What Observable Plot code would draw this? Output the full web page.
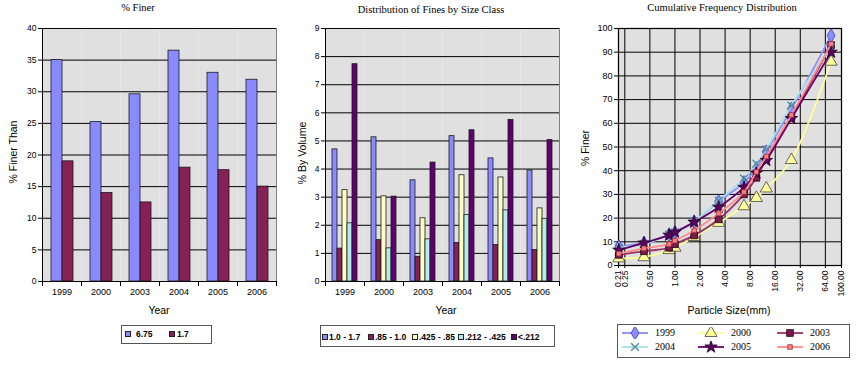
<!DOCTYPE html>
<html><head><meta charset="utf-8">
<script src="https://cdn.jsdelivr.net/npm/d3@7"></script>
<script src="https://cdn.jsdelivr.net/npm/@observablehq/plot@0.6"></script>
<style>
html,body{margin:0;padding:0;background:#fff}
#root{position:relative;width:856px;height:366px;overflow:hidden;font-family:"Liberation Sans",Arial,sans-serif;color:#000}
.a{position:absolute;white-space:nowrap;line-height:1}
.t{font-family:"Liberation Serif","Times New Roman",serif;font-size:10.5px;transform:translate(-50%,-50%)}
.ax{font-size:10.5px;transform:translate(-50%,-50%)}
.yt{font-size:10.5px;transform:translate(-50%,-50%) rotate(-90deg)}
.box{border:1px solid #555;box-sizing:border-box;background:#fff}
.lg{font-weight:bold;font-size:8.5px;transform:translateY(-50%)}
.lg3{font-family:"Liberation Serif","Times New Roman",serif;font-size:10px;transform:translateY(-50%)}
.sw{width:6px;height:6px;box-sizing:border-box;border:1px solid #222;transform:translateY(-50%)}
.plot{position:absolute}
.plot svg{display:block}
</style></head><body><div id="root"></div>
<script>
// ---------- data ----------
const years = ["1999", "2000", "2003", "2004", "2005", "2006"];

// Panel 1: % Finer
const finerSeries = ["6.75", "1.7"];
const finer675 = [35, 25.2, 29.6, 36.5, 33, 31.9];
const finer17 = [19, 14, 12.5, 18, 17.6, 15];

// Panel 2: Distribution of fines by size class
const sizeClasses = ["1.0 - 1.7", ".85 - 1.0", ".425 - .85", ".212 - .425", "<.212"];
const vol_10_17 = [4.7, 5.13, 3.6, 5.17, 4.38, 3.95];
const vol_085_10 = [1.17, 1.47, 0.88, 1.37, 1.3, 1.12];
const vol_0425_085 = [3.25, 3.03, 2.25, 3.78, 3.7, 2.6];
const vol_0212_0425 = [2.07, 1.18, 1.5, 2.37, 2.53, 2.23];
const vol_lt0212 = [7.73, 3.02, 4.23, 5.38, 5.75, 5.03];

// Panel 3: cumulative frequency distribution
const particleSizes = [0.212, 0.425, 0.85, 1.0, 1.7, 3.35, 6.75, 9.5, 12.5, 25, 75];
const cum1999 = [8, 9.5, 13, 14, 18.5, 27, 35, 41, 48, 66, 97];
const cum2000 = [3, 3.5, 6.5, 7.5, 12, 18, 25, 28.5, 32.5, 44.5, 86];
const cum2003 = [4.5, 6, 7.5, 9, 12.7, 19.5, 30, 37, 45, 62.5, 93];
const cum2004 = [7.5, 9, 13, 14, 18.5, 27.4, 36.7, 43, 49, 67.5, 92];
const cum2005 = [6.5, 9.5, 12.8, 14, 18.3, 24.6, 33, 39, 44.3, 62, 90];
const cum2006 = [5, 7.2, 9, 10.5, 14.8, 22, 31, 39.5, 46, 63.5, 93.5];
const sizeTicks = [0.21, 0.25, 0.5, 1, 2, 4, 8, 16, 32, 64, 100];

// ---------- helpers ----------
const root = document.getElementById("root");
function put(cls, text, x, y) {
  const d = document.createElement("div");
  d.className = "a " + cls; d.textContent = text;
  d.style.left = x + "px"; d.style.top = y + "px";
  root.appendChild(d); return d;
}
function box(x, y, w, h) {
  const d = document.createElement("div");
  d.className = "a box"; d.style.left = x + "px"; d.style.top = y + "px";
  d.style.width = w + "px"; d.style.height = h + "px";
  root.appendChild(d);
}
function swatch(x, y, color) {
  const d = document.createElement("div");
  d.className = "a sw"; d.style.left = x + "px"; d.style.top = y + "px";
  d.style.background = color; root.appendChild(d);
}
function placePlot(svg, x, y) {
  const w = document.createElement("div");
  w.className = "plot"; w.style.left = x + "px"; w.style.top = y + "px";
  w.appendChild(svg); root.appendChild(w);
}

const H = 300;
const plotStyle = {fontFamily: '"Liberation Sans", Arial, sans-serif', fontSize: "8.5px", background: "transparent", overflow: "visible", color: "#000"};

function barPanel({data, series, colors, yMax, yStep, width, ml, mr, padOuter}) {
  const mt = 10, mb = 37, innerH = H - mt - mb;
  const yt = d3.range(0, yMax + yStep / 2, yStep);
  return Plot.plot({
    width, height: H, marginLeft: ml, marginRight: mr, marginTop: mt, marginBottom: mb,
    style: plotStyle,
    fx: {domain: years, padding: 0},
    x: {domain: series, paddingInner: 0, paddingOuter: padOuter, axis: null},
    y: {domain: [0, yMax]},
    color: {domain: series, range: colors},
    marks: [
      Plot.frame({fill: "#e0e0e0", stroke: null}),
      Plot.frame({anchor: "right", stroke: "#808080", facetAnchor: "right"}),
      Plot.gridY(yt, {stroke: "#000", strokeOpacity: 1}),
      Plot.barY(data, {fx: "year", x: "series", y: "value", fill: "series", stroke: "#1a1a1a", strokeWidth: 0.8}),
      Plot.frame({anchor: "left", stroke: "#000", facetAnchor: "left"}),
      Plot.frame({anchor: "left", stroke: "#000", insetTop: innerH, insetBottom: -4}),
      Plot.frame({anchor: "right", stroke: "#000", insetTop: innerH, insetBottom: -4, facetAnchor: "right"}),
      Plot.axisY(yt, {tickSize: 4, tickPadding: 2, label: null}),
      Plot.axisFx({anchor: "bottom", tickSize: 0, tickPadding: 7, label: null, fontSize: 9})
    ]
  });
}

// ---------- Panel 1 ----------
const finerTable = years.flatMap((yr, i) => [
  {year: yr, series: finerSeries[0], value: finer675[i]},
  {year: yr, series: finerSeries[1], value: finer17[i]}
]);
const c1 = ["#8a8aff", "#862158"];
placePlot(barPanel({data: finerTable, series: finerSeries, colors: c1, yMax: 40, yStep: 5, width: 285, ml: 41, mr: 8, padOuter: 0.65}), 0, 18);

// ---------- Panel 2 ----------
const volSeries = [vol_10_17, vol_085_10, vol_0425_085, vol_0212_0425, vol_lt0212];
const volTable = years.flatMap((yr, i) => sizeClasses.map((s, k) => ({year: yr, series: s, value: volSeries[k][i]})));
const c2 = ["#8a8aff", "#862158", "#ffffc4", "#b4ecec", "#600070"];
placePlot(barPanel({data: volTable, series: sizeClasses, colors: c2, yMax: 9, yStep: 1, width: 275, ml: 33, mr: 4, padOuter: 0.8}), 290, 18);

// ---------- Panel 3 ----------
const cumValues = [cum1999, cum2000, cum2003, cum2004, cum2005, cum2006];
const cumTable = years.flatMap((yr, k) => particleSizes.map((s, i) => ({year: yr, size: s, pct: cumValues[k][i]})));
const st3 = {
  "1999": {line: "#8c8cff", symbol: "diamond", fill: "#8c8cff", stroke: "#4040a8", r: 4.2},
  "2000": {line: "#ffff99", symbol: "triangle", fill: "#ffff99", stroke: "#444", r: 4.5},
  "2003": {line: "#993366", symbol: "square", fill: "#7a1a4c", stroke: "#2a0010", r: 3.8},
  "2004": {line: "#a6e2ea", symbol: "times", fill: "none", stroke: "#4f8ea0", r: 3.6},
  "2005": {line: "#660066", symbol: "star", fill: "#5c0060", stroke: "#220022", r: 3.9},
  "2006": {line: "#ff8a8a", symbol: "square", fill: "#ff8080", stroke: "#a03040", r: 2.6}
};
const mt3 = 10, mb3 = 53;
const fmt2 = d3.format(".2f");
const p3 = Plot.plot({
  width: 262, height: H, marginLeft: 28, marginRight: 11, marginTop: mt3, marginBottom: mb3,
  style: plotStyle,
  x: {type: "log", domain: [0.21, 100]},
  y: {domain: [0, 100]},
  marks: [
    Plot.frame({fill: "#e0e0e0", stroke: "#808080", strokeWidth: 1.5}),
    Plot.gridX(sizeTicks, {stroke: "#000", strokeOpacity: 1}),
    Plot.gridY(d3.range(0, 101, 10), {stroke: "#000", strokeOpacity: 1}),
    ...years.flatMap(yr => {
      const s = st3[yr];
      const d = cumTable.filter(r => r.year === yr);
      return [
        Plot.line(d, {x: "size", y: "pct", stroke: s.line, strokeWidth: 1.8, curve: "catmull-rom"}),
        Plot.dot(d, {x: "size", y: "pct", symbol: () => s.symbol, fill: s.fill, stroke: s.stroke, strokeWidth: yr === "2004" ? 1.4 : 0.8, r: s.r})
      ];
    }),
    Plot.axisX(sizeTicks, {ticks: 100000, tickFormat: fmt2, tickRotate: -90, tickSize: 3, tickPadding: 2, label: null, fontSize: 8.5}),
    Plot.axisY(d3.range(0, 101, 10), {tickSize: 4, tickPadding: 2, label: null, fontSize: 9})
  ]
});
placePlot(p3, 590, 18);

// ---------- texts ----------
put("t", "% Finer", 138, 8);
put("t", "Distribution of Fines by Size Class", 431, 10);
put("t", "Cumulative Frequency Distribution", 722, 8);
put("ax", "Year", 159, 310);
put("ax", "Year", 446, 310);
put("ax", "Particle Size(mm)", 729, 310);
put("yt", "% Finer Than", 13, 152);
put("yt", "% By Volume", 302, 153);
put("yt", "% Finer", 585, 148);

// ---------- legends ----------
box(121, 325, 91, 19);
swatch(125, 334, c1[0]); put("lg", finerSeries[0], 136, 334);
swatch(169, 334, c1[1]); put("lg", finerSeries[1], 177, 334);

box(320, 325, 235, 22);
const lg2x = [322, 368, 412, 458, 511];
sizeClasses.forEach((s, k) => { swatch(lg2x[k], 337, c2[k]); put("lg", s, lg2x[k] + 7, 337); });

box(617, 324, 233, 34);
const lg3pos = [[622, 333], [698, 333], [777, 333], [622, 347], [698, 347], [777, 347]];
years.forEach((yr, k) => {
  const s = st3[yr];
  const [x, y] = lg3pos[k];
  const ns = "http://www.w3.org/2000/svg";
  const svg = document.createElementNS(ns, "svg");
  svg.setAttribute("width", 28); svg.setAttribute("height", 12);
  svg.style.position = "absolute"; svg.style.left = x + "px"; svg.style.top = (y - 6) + "px";
  const ln = document.createElementNS(ns, "line");
  ln.setAttribute("x1", 0); ln.setAttribute("x2", 26); ln.setAttribute("y1", 6); ln.setAttribute("y2", 6);
  ln.setAttribute("stroke", s.line); ln.setAttribute("stroke-width", 1.8);
  svg.appendChild(ln);
  const symMap = {diamond: d3.symbolDiamond, triangle: d3.symbolTriangle, square: d3.symbolSquare, times: d3.symbolTimes, star: d3.symbolStar};
  const p = document.createElementNS(ns, "path");
  p.setAttribute("d", d3.symbol(symMap[s.symbol], s.r * s.r * Math.PI)());
  p.setAttribute("transform", "translate(13,6)");
  p.setAttribute("fill", s.fill); p.setAttribute("stroke", s.stroke);
  p.setAttribute("stroke-width", yr === "2004" ? 1.4 : 0.8);
  svg.appendChild(p);
  root.appendChild(svg);
  put("lg3", yr, x + 33, y);
});
</script></body></html>
